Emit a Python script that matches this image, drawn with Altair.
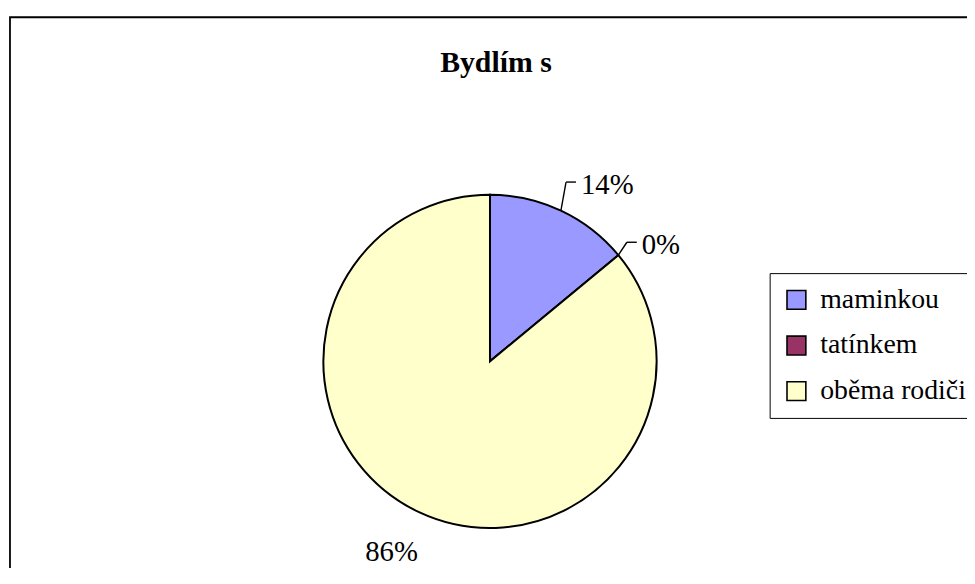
import math
import altair as alt
import pandas as pd

# ---- data ----
categories = ["maminkou", "tatínkem", "oběma rodiči"]
values = [14, 0, 86]
labels = ["14%", "0%", "86%"]
colors = ["#9999FF", "#993366", "#FFFFCC"]
title_text = "Bydlím s"

# ---- layout / style ----
CX, CY, R = 486, 354, 168          # pie centre and radius (chart pixels)
LABEL_R = 212                        # radius where labels are anchored
nudges = [(28, 23), (9, 27), (-9, 9)]
with_leader = [True, True, False]
FONT = "Times New Roman, Liberation Serif, serif"
FS = 29

pie_df = pd.DataFrame({"cat": categories, "value": values, "idx": list(range(len(values)))})

# label / leader positions derived from the slice angles
total = float(sum(values))
cum = 0.0
lab_rows, seg_rows = [], []
for c, v, lab, (ndx, ndy), lead in zip(categories, values, labels, nudges, with_leader):
    mid = (cum + v / 2.0) / total * 2 * math.pi
    cum += v
    sx, sy = math.sin(mid), -math.cos(mid)
    lx = CX + LABEL_R * sx + ndx
    ly = CY + LABEL_R * sy + ndy
    lab_rows.append({"cat": c, "label": lab, "lx": lx, "ly": ly})
    if lead:
        digits = len(lab) - 1
        hw = 0.5 * FS * (0.5 * digits + 0.833)
        ex, ey = CX + R * sx, CY + R * sy
        bx, by = lx - hw - 15, ly - 12
        tx = lx - hw - 5
        seg_rows.append({"x": ex, "y": ey, "x2": bx, "y2": by})
        seg_rows.append({"x": bx, "y": by, "x2": tx, "y2": by})
lab_df = pd.DataFrame(lab_rows)
seg_df = pd.DataFrame(seg_rows)

border = alt.Chart(pd.DataFrame({"k": [0]})).mark_rect(
    filled=False, stroke="black", strokeWidth=1.8
).encode(x=alt.value(2), x2=alt.value(1400), y=alt.value(7), y2=alt.value(1400))

pie = alt.Chart(pie_df).mark_arc(
    outerRadius=R, stroke="black", strokeWidth=2
).encode(
    theta=alt.Theta("value:Q", stack=True),
    order=alt.Order("idx:Q"),
    color=alt.Color(
        "cat:N",
        scale=alt.Scale(domain=categories, range=colors),
        title=None,
        legend=alt.Legend(
            orient="none", legendX=768, legendY=265, direction="vertical",
            symbolType="square", symbolSize=361, symbolStrokeColor="black",
            symbolStrokeWidth=1.6, symbolOpacity=1,
            labelFont=FONT, labelFontSize=28, labelColor="black", labelLimit=400,
            labelOffset=10, rowPadding=18, padding=13,
            strokeColor="black", fillColor="white",
        ),
    ),
    x=alt.value(CX),
    y=alt.value(CY),
)

leaders = alt.Chart(seg_df).mark_rule(color="black", strokeWidth=1.4).encode(
    x=alt.X("x:Q", scale=None, axis=None),
    y=alt.Y("y:Q", scale=None, axis=None),
    x2="x2:Q",
    y2="y2:Q",
)

texts = alt.Chart(lab_df).mark_text(
    font=FONT, fontSize=FS, align="center", baseline="alphabetic", color="black"
).encode(
    x=alt.X("lx:Q", scale=None, axis=None),
    y=alt.Y("ly:Q", scale=None, axis=None),
    text="label:N",
)

title = alt.Chart(pd.DataFrame({"t": [title_text]})).mark_text(
    font=FONT, fontSize=30, fontWeight="bold", align="center",
    baseline="alphabetic", color="black"
).encode(x=alt.value(492), y=alt.value(62), text="t:N")

chart = alt.layer(border, pie, leaders, texts, title).properties(
    width=967, height=560, padding=0, autosize=alt.AutoSizeParams(type="none"),
    background="white",
).configure_view(stroke=None).resolve_scale(x="independent", y="independent")

chart.save("out.html", embed_options={"renderer": "svg", "actions": False})
